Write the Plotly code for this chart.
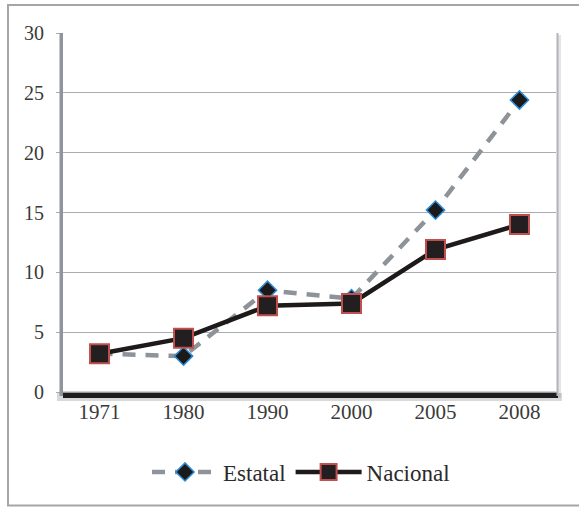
import plotly.graph_objects as go

years = ["1971", "1980", "1990", "2000", "2005", "2008"]
estatal = [3.2, 3.0, 8.5, 7.8, 15.2, 24.4]
nacional = [3.2, 4.5, 7.2, 7.4, 11.9, 14.0]
y_ticks = [0, 5, 10, 15, 20, 25, 30]

FONT = "'Liberation Serif', 'Times New Roman', Times, serif"
W, H = 579, 507
L, R, T, B = 63, 23, 33, 115
PW = W - L - R
PH = H - T - B


def px_x(px):
    return (px - L) / PW


def px_y(py):
    return (H - B - py) / PH


fig = go.Figure()
fig.add_trace(go.Scatter(
    x=years, y=estatal, name="Estatal", mode="lines+markers",
    line=dict(color="#8e9399", width=4.5, dash="13px,10px"),
    marker=dict(symbol="diamond", size=14, color="#1a1a1a",
                line=dict(color="#2e8bd6", width=1.5)),
))
fig.add_trace(go.Scatter(
    x=years, y=nacional, name="Nacional", mode="lines+markers",
    line=dict(color="#1e1a1a", width=4.5),
    marker=dict(symbol="square", size=19, color="#231f20",
                line=dict(color="#c0504d", width=2)),
))

shapes = [
    # outer frame
    dict(type="rect", xref="paper", yref="paper",
         x0=px_x(8), x1=px_x(610), y0=px_y(505.5), y1=px_y(5),
         line=dict(color="#a6a6a6", width=2), fillcolor="rgba(0,0,0,0)", layer="below"),
    # floor shadow
    dict(type="rect", xref="paper", yref="paper",
         x0=px_x(57), x1=px_x(562), y0=px_y(401), y1=px_y(393),
         line=dict(width=0), fillcolor="rgba(0,0,0,0.15)", layer="above"),
    dict(type="rect", xref="paper", yref="paper",
         x0=px_x(63), x1=px_x(558), y0=px_y(398), y1=px_y(392.5),
         line=dict(width=0), fillcolor="#1e1e1e", layer="above"),
    # x-axis line
    dict(type="line", xref="paper", yref="paper",
         x0=0, x1=1, y0=0, y1=0,
         line=dict(color="#a0a4a8", width=1), layer="above"),
    # left wall
    dict(type="rect", xref="paper", yref="paper",
         x0=px_x(59.5), x1=px_x(63), y0=px_y(396), y1=1,
         line=dict(width=0), fillcolor="#8e959c", layer="above"),
    # right edge
    dict(type="line", xref="paper", yref="paper",
         x0=px_x(559.5), x1=px_x(559.5), y0=px_y(398), y1=px_y(35),
         line=dict(color="rgba(0,0,0,0.10)", width=3), layer="above"),
    dict(type="line", xref="paper", yref="paper",
         x0=px_x(557.5), x1=px_x(557.5), y0=px_y(396), y1=px_y(33),
         line=dict(color="#b0b4b8", width=2), layer="above"),
]

fig.update_layout(
    width=W, height=H,
    margin=dict(l=L, r=R, t=T, b=B),
    paper_bgcolor="white", plot_bgcolor="white",
    font=dict(family=FONT, color="#3a3a3a", size=20),
    showlegend=True,
    legend=dict(orientation="h", x=px_x(301), xanchor="center",
                y=px_y(472), yanchor="middle",
                font=dict(family=FONT, size=23, color="#2a2a2a"),
                itemwidth=66, bgcolor="rgba(0,0,0,0)"),
    shapes=shapes,
    xaxis=dict(type="category", showgrid=False, zeroline=False,
               showline=False, ticks="", ticklabelstandoff=5,
               tickfont=dict(family=FONT, size=21, color="#3a3a3a")),
    yaxis=dict(range=[0, 30], tickvals=y_ticks, showgrid=True,
               gridcolor="#a9adb2", gridwidth=1, zeroline=False,
               showline=False, ticks="outside", ticklen=6,
               tickcolor="#a9adb2", ticklabelstandoff=8,
               tickfont=dict(family=FONT, size=20, color="#3a3a3a")),
)

fig.write_html("out.html")
